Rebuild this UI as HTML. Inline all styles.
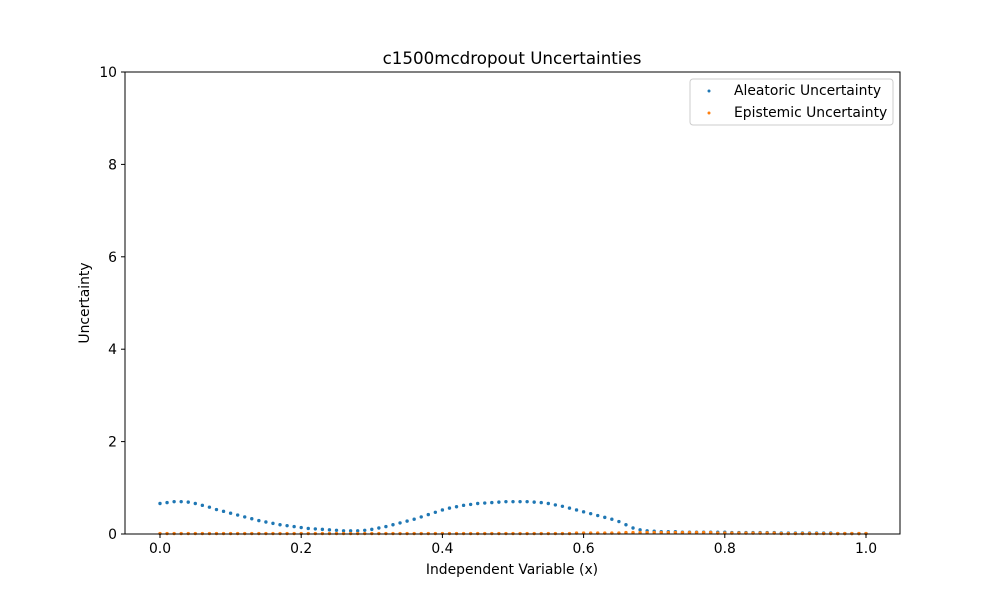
<!DOCTYPE html>
<html><head><meta charset="utf-8"><style>
body{margin:0;background:#fff;font-family:"DejaVu Sans",sans-serif}
text{font-family:"DejaVu Sans",sans-serif;fill:#000}
</style></head><body>
<svg id="chart" width="1000" height="600" xmlns="http://www.w3.org/2000/svg">
<rect width="1000" height="600" fill="#fff"/>
<text x="512" y="64" font-size="16.7" text-anchor="middle">c1500mcdropout Uncertainties</text>
<g id="marks"></g>
<g id="axes"></g>
<rect x="125" y="72" width="775" height="462" fill="none" stroke="#000" stroke-width="1"/>
<text x="512" y="574" font-size="13.9" text-anchor="middle">Independent Variable (x)</text>
<text x="89" y="303" font-size="13.9" text-anchor="middle" transform="rotate(-90 89 303)">Uncertainty</text>
<g>
<rect x="690" y="79" width="203" height="46" fill="#fff" stroke="#ccc" rx="3"/>
<circle cx="709" cy="91" r="1.5" fill="#1f77b4"/>
<text x="734" y="95" font-size="13.9">Aleatoric Uncertainty</text>
<circle cx="709" cy="113" r="1.5" fill="#ff7f0e"/>
<text x="734" y="117" font-size="13.9">Epistemic Uncertainty</text>
</g>
</svg>
<script>
const xValues=[0.00,0.01,0.02,0.03,0.04,0.05,0.06,0.07,0.08,0.09,0.10,0.11,0.12,0.13,0.14,0.15,0.16,0.17,0.18,0.19,0.20,0.21,0.22,0.23,0.24,0.25,0.26,0.27,0.28,0.29,0.30,0.31,0.32,0.33,0.34,0.35,0.36,0.37,0.38,0.39,0.40,0.41,0.42,0.43,0.44,0.45,0.46,0.47,0.48,0.49,0.50,0.51,0.52,0.53,0.54,0.55,0.56,0.57,0.58,0.59,0.60,0.61,0.62,0.63,0.64,0.65,0.66,0.67,0.68,0.69,0.70,0.71,0.72,0.73,0.74,0.75,0.76,0.77,0.78,0.79,0.80,0.81,0.82,0.83,0.84,0.85,0.86,0.87,0.88,0.89,0.90,0.91,0.92,0.93,0.94,0.95,0.96,0.97,0.98,0.99,1.00];
const aleatoric=[0.66,0.68,0.70,0.70,0.69,0.66,0.62,0.58,0.53,0.49,0.45,0.41,0.37,0.33,0.29,0.26,0.23,0.20,0.18,0.16,0.14,0.12,0.11,0.10,0.09,0.08,0.07,0.07,0.07,0.08,0.10,0.13,0.16,0.20,0.24,0.28,0.32,0.37,0.42,0.47,0.52,0.56,0.59,0.62,0.64,0.66,0.67,0.68,0.69,0.70,0.70,0.70,0.70,0.69,0.68,0.66,0.63,0.60,0.56,0.52,0.48,0.44,0.40,0.36,0.32,0.27,0.20,0.13,0.09,0.07,0.06,0.05,0.05,0.05,0.04,0.04,0.04,0.04,0.04,0.04,0.04,0.03,0.03,0.03,0.03,0.03,0.03,0.03,0.02,0.02,0.02,0.02,0.02,0.02,0.02,0.02,0.01,0.01,0.01,0.01,0.01];
const epistemic=[0.01,0.01,0.01,0.01,0.01,0.01,0.01,0.01,0.01,0.01,0.01,0.01,0.01,0.01,0.01,0.01,0.01,0.01,0.01,0.01,0.01,0.01,0.01,0.01,0.01,0.01,0.01,0.01,0.01,0.01,0.01,0.01,0.01,0.01,0.01,0.01,0.01,0.01,0.01,0.01,0.01,0.01,0.01,0.01,0.01,0.01,0.01,0.01,0.01,0.01,0.01,0.01,0.01,0.01,0.01,0.01,0.01,0.01,0.01,0.02,0.02,0.02,0.02,0.02,0.02,0.02,0.03,0.03,0.03,0.03,0.03,0.03,0.03,0.03,0.03,0.03,0.03,0.03,0.03,0.02,0.02,0.02,0.02,0.02,0.02,0.02,0.02,0.02,0.01,0.01,0.01,0.01,0.01,0.01,0.01,0.01,0.01,0.01,0.01,0.01,0.01];
const xTicks=[0,0.2,0.4,0.6,0.8,1.0];
const xTickLabels=["0.0","0.2","0.4","0.6","0.8","1.0"];
const yTicks=[0,2,4,6,8,10];
const yTickLabels=["0","2","4","6","8","10"];
const NS="http://www.w3.org/2000/svg";
const sx=v=>160+v*706;
const sy=v=>534-v*46.2;
const marks=document.getElementById('marks');
const axes=document.getElementById('axes');
function dot(x,y,c,name){
  const e=document.createElementNS(NS,'circle');
  e.setAttribute('cx',sx(x));e.setAttribute('cy',sy(y));e.setAttribute('r',1.7);e.setAttribute('fill',c);
  
  
  marks.appendChild(e);
}
xValues.forEach((x,i)=>dot(x,aleatoric[i],'#1f77b4','aleatoric-point'));
xValues.forEach((x,i)=>dot(x,epistemic[i],'#ff7f0e','epistemic-point'));
xTicks.forEach((t,i)=>{
  const l=document.createElementNS(NS,'line');
  l.setAttribute('x1',sx(t));l.setAttribute('x2',sx(t));l.setAttribute('y1',534);l.setAttribute('y2',538);l.setAttribute('stroke','#000');
  
  
  axes.appendChild(l);
  const tx=document.createElementNS(NS,'text');
  tx.setAttribute('x',sx(t));tx.setAttribute('y',553);tx.setAttribute('font-size','13.9');tx.setAttribute('text-anchor','middle');
  tx.textContent=xTickLabels[i];
  
  
  axes.appendChild(tx);
});
yTicks.forEach((t,i)=>{
  const l=document.createElementNS(NS,'line');
  l.setAttribute('x1',121);l.setAttribute('x2',125);l.setAttribute('y1',sy(t));l.setAttribute('y2',sy(t));l.setAttribute('stroke','#000');
  
  
  axes.appendChild(l);
  const tx=document.createElementNS(NS,'text');
  tx.setAttribute('x',117);tx.setAttribute('y',sy(t)+5);tx.setAttribute('font-size','13.9');tx.setAttribute('text-anchor','end');
  tx.textContent=yTickLabels[i];
  
  
  axes.appendChild(tx);
});
</script>
</body></html>
